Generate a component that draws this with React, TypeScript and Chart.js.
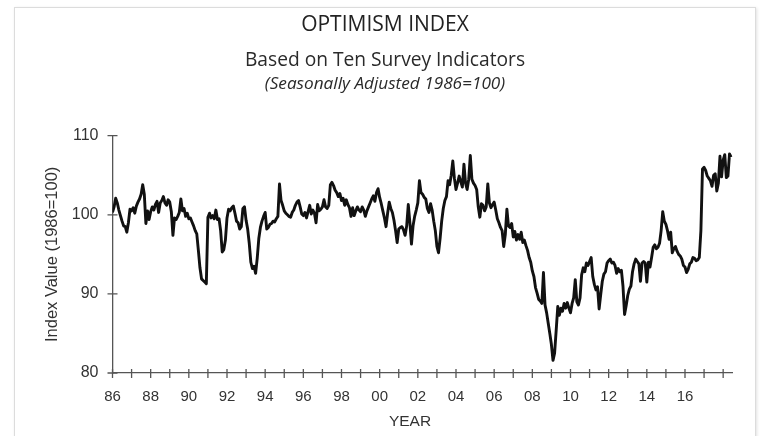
import React, { useEffect, useRef } from 'react';
import { Chart, registerables } from 'chart.js';

Chart.register(...registerables);

// ---- Data (monthly index values, Jan..Dec) ----
const START_YEAR = 1986;
const v1986 = [100.3, 101.0, 102.1, 101.5, 100.6, 99.9, 99.2, 98.6, 98.5, 97.8, 99.0, 100.7];
const v1987 = [100.5, 100.9, 100.2, 101.1, 101.6, 102.0, 102.6, 103.8, 102.6, 98.9, 100.5, 99.4];
const v1988 = [100.4, 101.0, 100.6, 101.3, 101.7, 100.3, 101.5, 101.8, 102.3, 101.5, 101.2, 101.9];
const v1989 = [101.6, 100.4, 97.4, 99.6, 99.4, 99.8, 100.3, 102.0, 100.5, 100.8, 99.8, 100.2];
const v1990 = [99.5, 99.6, 99.1, 98.6, 98.0, 97.6, 95.5, 93.3, 91.9, 91.7, 91.5, 91.3];
const v1991 = [99.7, 100.2, 99.6, 99.9, 99.5, 100.6, 99.4, 99.5, 98.0, 95.3, 95.6, 96.8];
const v1992 = [99.6, 100.7, 100.5, 100.9, 101.1, 100.2, 99.2, 99.0, 98.2, 98.5, 100.8, 101.0];
const v1993 = [99.3, 98.2, 96.4, 94.0, 93.2, 93.5, 92.6, 94.5, 97.0, 98.4, 99.2, 99.8];
const v1994 = [100.3, 98.2, 98.4, 98.8, 98.9, 99.2, 99.1, 99.5, 99.8, 103.9, 101.8, 101.2];
const v1995 = [100.5, 100.2, 100.0, 99.8, 99.7, 100.3, 100.6, 101.2, 101.6, 101.8, 101.0, 100.1];
const v1996 = [99.9, 100.3, 99.6, 100.4, 101.2, 100.1, 100.6, 100.2, 99.0, 101.3, 100.5, 100.7];
const v1997 = [101.0, 101.9, 101.0, 100.8, 101.2, 103.8, 104.1, 103.7, 103.1, 102.8, 102.3, 102.7];
const v1998 = [101.8, 102.1, 101.2, 101.9, 101.3, 100.9, 99.8, 100.9, 99.9, 100.5, 101.0, 100.6];
const v1999 = [100.4, 101.0, 100.6, 99.8, 100.5, 101.0, 101.5, 102.0, 102.4, 101.7, 102.8, 103.3];
const v2000 = [102.2, 101.4, 100.5, 99.6, 98.5, 100.2, 101.6, 100.8, 100.3, 99.3, 98.0, 96.5];
const v2001 = [98.2, 98.4, 98.5, 98.1, 97.4, 98.6, 101.3, 99.0, 96.3, 98.6, 99.8, 100.6];
const v2002 = [101.5, 104.3, 102.8, 102.6, 102.2, 102.0, 100.8, 100.3, 101.4, 100.6, 99.2, 98.0];
const v2003 = [96.0, 95.2, 97.0, 99.2, 100.8, 101.8, 102.3, 104.3, 103.8, 105.0, 106.8, 104.6];
const v2004 = [103.2, 104.0, 104.9, 104.2, 103.5, 106.4, 104.0, 103.2, 104.5, 107.5, 104.5, 104.0];
const v2005 = [103.7, 103.2, 101.0, 99.7, 101.4, 101.2, 100.5, 101.0, 103.9, 101.5, 100.9, 101.3];
const v2006 = [101.6, 100.6, 99.5, 99.0, 98.4, 98.0, 96.0, 97.5, 100.7, 98.6, 98.4, 98.9];
const v2007 = [97.2, 97.9, 96.8, 97.5, 96.9, 97.8, 96.5, 96.8, 96.1, 95.5, 94.6, 94.0];
const v2008 = [92.9, 92.2, 90.8, 90.1, 89.3, 89.1, 88.8, 92.7, 88.6, 87.6, 86.3, 85.0];
const v2009 = [83.6, 81.6, 82.5, 85.4, 88.4, 87.3, 88.2, 87.8, 88.8, 88.2, 88.9, 88.2];
const v2010 = [87.6, 88.8, 89.5, 91.8, 89.0, 88.6, 89.5, 92.4, 93.3, 92.8, 93.9, 93.6];
const v2011 = [94.1, 94.6, 92.2, 91.2, 90.5, 90.9, 88.1, 89.9, 91.6, 92.5, 92.8, 93.9];
const v2012 = [94.2, 94.4, 93.9, 94.0, 93.6, 92.6, 93.2, 92.8, 93.0, 91.0, 87.4, 88.5];
const v2013 = [89.8, 90.6, 91.0, 92.8, 93.8, 94.4, 94.1, 93.8, 91.6, 93.9, 94.1, 93.9];
const v2014 = [91.5, 94.0, 93.4, 94.6, 95.9, 96.2, 95.7, 95.9, 96.4, 98.0, 100.4, 99.2];
const v2015 = [98.8, 98.0, 96.9, 97.8, 95.2, 95.7, 96.0, 95.4, 95.0, 94.8, 94.4, 93.6];
const v2016 = [93.4, 92.7, 93.1, 93.8, 94.0, 94.6, 94.5, 94.2, 94.3, 94.6, 98.0, 105.8];
const v2017 = [106.0, 105.6, 104.9, 104.6, 104.3, 103.6, 105.0, 105.2, 103.0, 104.0, 107.4, 104.8];
const v2018 = [106.9, 107.6, 104.7, 104.9, 107.7, 107.3];

const monthlySeries = [
  v1986, v1987, v1988, v1989, v1990, v1991, v1992, v1993, v1994, v1995, v1996,
  v1997, v1998, v1999, v2000, v2001, v2002, v2003, v2004, v2005, v2006, v2007,
  v2008, v2009, v2010, v2011, v2012, v2013, v2014, v2015, v2016, v2017, v2018,
];

const xLabelYears = [1986, 1988, 1990, 1992, 1994, 1996, 1998, 2000, 2002, 2004, 2006, 2008, 2010, 2012, 2014, 2016];
const xLabels = ['86', '88', '90', '92', '94', '96', '98', '00', '02', '04', '06', '08', '10', '12', '14', '16'];
const yTickValues = [80, 90, 100, 110];

const TITLE = 'OPTIMISM INDEX';
const SUBTITLE = 'Based on Ten Survey Indicators';
const NOTE = '(Seasonally Adjusted 1986=100)';
const X_TITLE = 'YEAR';
const Y_TITLE = 'Index Value (1986=100)';

const points = monthlySeries.flatMap((vals, i) =>
  vals.map((v, m) => ({ x: START_YEAR + i + m / 12, y: v }))
);

const crossTicks = {
  id: 'crossTicks',
  afterDraw(chart: any) {
    const { ctx } = chart;
    const xs = chart.scales.x;
    const ys = chart.scales.y;
    ctx.save();
    ctx.strokeStyle = '#555';
    ctx.lineWidth = 1.3;
    ctx.beginPath();
    xs.ticks.forEach((t: any) => {
      if (!Number.isInteger(t.value)) return;
      const px = xs.getPixelForValue(t.value);
      ctx.moveTo(px, ys.bottom - 4);
      ctx.lineTo(px, ys.bottom + 5);
    });
    ys.ticks.forEach((t: any) => {
      if (!yTickValues.includes(t.value)) return;
      const py = ys.getPixelForValue(t.value);
      ctx.moveTo(xs.left - 5, py);
      ctx.lineTo(xs.left + 5, py);
    });
    ctx.stroke();
    ctx.restore();
  },
};

const headerText = {
  id: 'headerText',
  afterDraw(chart: any) {
    const { ctx } = chart;
    const cx = chart.width / 2;
    ctx.save();
    ctx.textAlign = 'center';
    ctx.textBaseline = 'middle';
    ctx.fillStyle = '#222';
    ctx.font = '21px "Open Sans"';
    ctx.fillText(TITLE, cx, 25);
    ctx.fillStyle = '#2a2a2a';
    ctx.font = '19.2px "Open Sans"';
    ctx.fillText(SUBTITLE, cx, 61);
    ctx.font = 'italic 17.2px "Open Sans"';
    ctx.fillText(NOTE, cx, 84);
    ctx.fillStyle = '#333';
    ctx.font = '15.5px "Liberation Sans", Arial, sans-serif';
    ctx.fillText(X_TITLE, 410, 422);
    ctx.restore();
  },
};

export default function App() {
  const ref = useRef<HTMLCanvasElement | null>(null);

  useEffect(() => {
    if (!ref.current) return;
    const chart = new Chart(ref.current, {
      type: 'line',
      data: {
        datasets: [
          {
            data: points,
            borderColor: '#111',
            borderWidth: 2.9,
            borderJoinStyle: 'round',
            pointRadius: 0,
            tension: 0,
            fill: false,
          },
        ],
      },
      options: {
        animation: false,
        responsive: false,
        layout: { padding: { top: 135.7, right: 37.3, left: 0, bottom: 0 } },
        plugins: {
          legend: { display: false },
          tooltip: { enabled: false },
          title: { display: false },
        },
        scales: {
          x: {
            type: 'linear',
            min: 1986,
            max: 2018.5,
            grid: { display: false, drawTicks: false },
            border: { display: true, color: '#555', width: 1.3 },
            ticks: {
              stepSize: 1,
              includeBounds: false,
              autoSkip: false,
              maxRotation: 0,
              padding: 15,
              color: '#333',
              font: { family: '"Liberation Sans", Arial, sans-serif', size: 15 },
              callback: (value: any) => {
                const idx = xLabelYears.indexOf(Number(value));
                return idx >= 0 ? xLabels[idx] : '';
              },
            },
            afterFit: (s: any) => {
              s.height = 63;
            },
          },
          y: {
            type: 'linear',
            min: 80,
            max: 110,
            grid: { display: false, drawTicks: false },
            border: { display: true, color: '#555', width: 1.3 },
            ticks: {
              stepSize: 10,
              padding: 14,
              color: '#333',
              font: { family: '"Liberation Sans", Arial, sans-serif', size: 16 },
            },
            title: {
              display: true,
              text: Y_TITLE,
              color: '#333',
              font: { family: '"Liberation Sans", Arial, sans-serif', size: 16.5 },
              padding: { top: 43, bottom: 0 },
            },
            afterFit: (s: any) => {
              s.width = 112.5;
            },
          },
        },
      },
      plugins: [crossTicks, headerText],
    });
    return () => chart.destroy();
  }, []);

  return (
    <div style={{ position: 'absolute', left: 0, top: 0, width: 770, height: 436, overflow: 'hidden', background: '#fff' }}>
      <div
        style={{
          position: 'absolute',
          left: 14,
          top: 7,
          width: 740,
          height: 445,
          border: '1px solid #dcdcdc',
          boxShadow: '1px 1px 3px rgba(0,0,0,0.12)',
          background: '#fff',
        }}
      />
      <canvas ref={ref} width={770} height={436} style={{ position: 'absolute', left: 0, top: 0 }} />
    </div>
  );
}
